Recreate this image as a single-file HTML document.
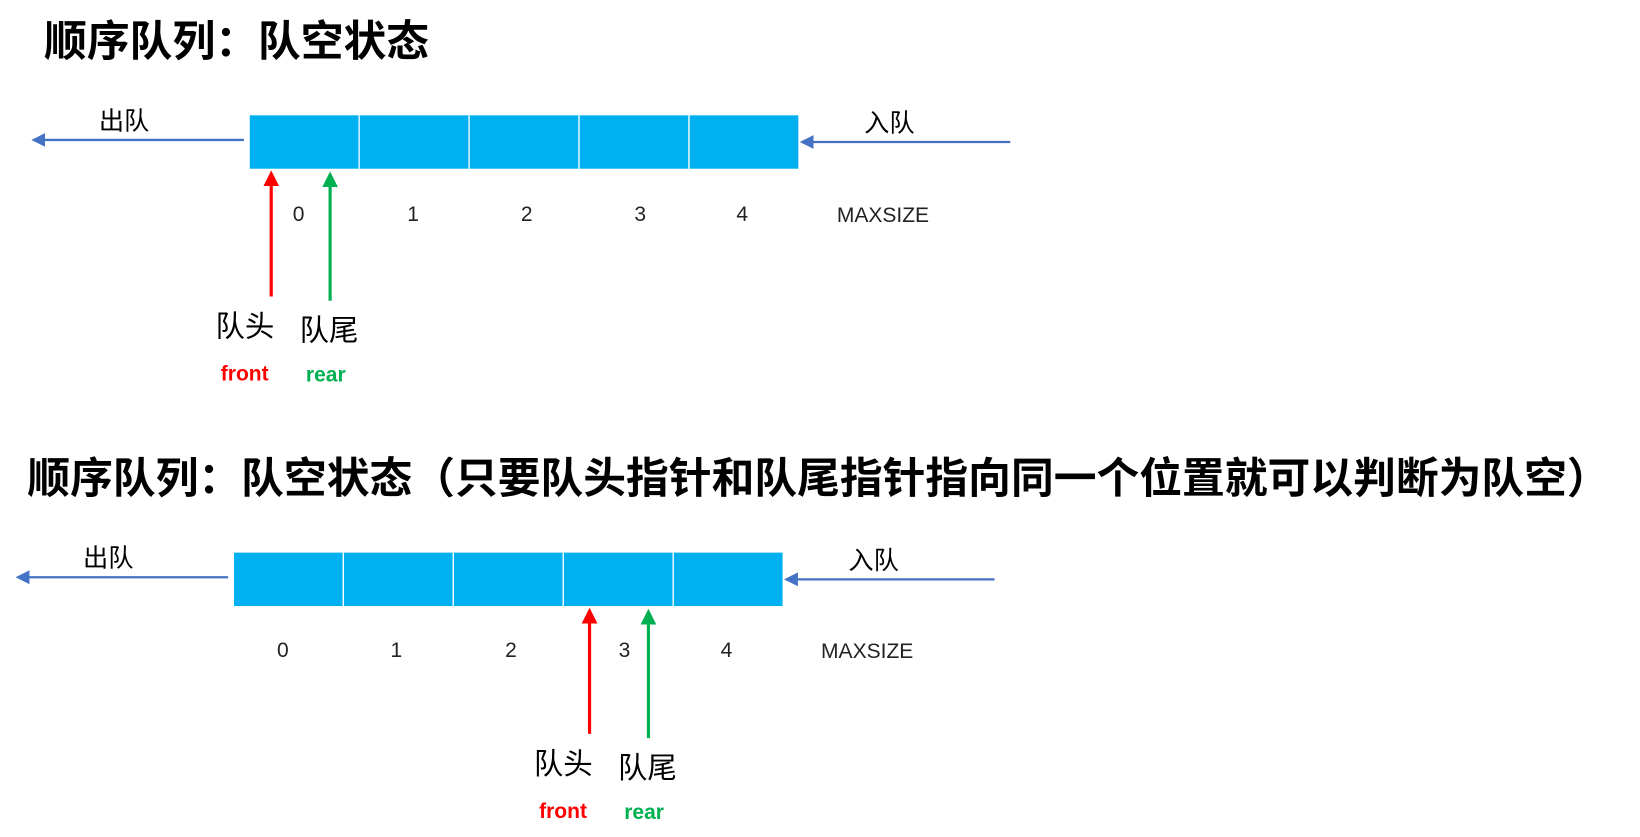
<!DOCTYPE html>
<html><head><meta charset="utf-8"><style>
html,body{margin:0;padding:0;background:#fff;width:1640px;height:837px;overflow:hidden}
text{font-family:"Liberation Sans","Noto Sans CJK SC",sans-serif}
.cn{font-family:"Noto Sans CJK SC","Liberation Sans",sans-serif}
</style></head><body>
<svg id="chart" width="1640" height="837" viewBox="0 0 1560 796" xmlns="http://www.w3.org/2000/svg">
<defs>
<marker id="mb" markerWidth="6" markerHeight="6" refX="5" refY="3" orient="auto"><path d="M0,0 L6,3 L0,6 z" fill="#4472C4"/></marker>
<marker id="mr" markerWidth="5" markerHeight="5" refX="4" refY="2.5" orient="auto"><path d="M0,0 L5,2.5 L0,5 z" fill="#FF0000"/></marker>
<marker id="mg" markerWidth="5" markerHeight="5" refX="4" refY="2.5" orient="auto"><path d="M0,0 L5,2.5 L0,5 z" fill="#00B050"/></marker>
</defs>
<g id="root"></g>
</svg>
<script>
const indexLabels = ["0","1","2","3","4"];
const frontIndex = [0, 3];
const rearIndex = [0, 3];
const panels = [
  {title:"顺序队列：队空状态", tx:42, ty:53, bx:237, by:109, idxY:203, idxX:[284,393,501,609,706]},
  {title:"顺序队列：队空状态（只要队头指针和队尾指针指向同一个位置就可以判断为队空）", tx:26, ty:469, bx:222, by:525, idxY:618, idxX:[269,377,486,594,691]}
];
const NS="http://www.w3.org/2000/svg";
const root=document.getElementById('root');
function mk(tag,attrs,parent){const e=document.createElementNS(NS,tag);for(const k in attrs)e.setAttribute(k,attrs[k]);(parent||root).appendChild(e);return e;}
const cellW=104.6, boxH=52;
panels.forEach((p,pi)=>{
  const g=mk('g',{});
  
  
  const t=mk('text',{x:p.tx,y:p.ty,'font-size':40.7,'font-weight':'bold',class:'cn',fill:'#000'},g);
  t.textContent=p.title;
  
  
  for(let i=0;i<indexLabels.length;i++){
    const r=mk('rect',{x:p.bx+i*cellW,y:p.by,width:cellW,height:boxH,fill:'#00B0F0',stroke:'#fff','stroke-width':1.2},g);
    
    
    const l=mk('text',{x:p.idxX[i],y:p.idxY+7,'font-size':20,'text-anchor':'middle',fill:'#222'},g);
    l.textContent=indexLabels[i];
    
    
  }
  const ms=mk('text',{x:p.bx+559,y:p.idxY+8,'font-size':20,fill:'#222'},g);
  ms.textContent="MAXSIZE";
  
  
  const dq=mk('line',{x1:p.bx-5,y1:p.by+24,x2:p.bx-205,y2:p.by+24,stroke:'#4472C4','stroke-width':2.2,'marker-end':'url(#mb)'},g);
  
  
  const dqt=mk('text',{x:p.bx-143,y:p.by+14,'font-size':24,class:'cn',fill:'#000'},g);
  dqt.textContent="出队";
  
  
  const eq=mk('line',{x1:p.bx+724,y1:p.by+26,x2:p.bx+526,y2:p.by+26,stroke:'#4472C4','stroke-width':2.2,'marker-end':'url(#mb)'},g);
  
  
  const eqt=mk('text',{x:p.bx+585,y:p.by+16,'font-size':24,class:'cn',fill:'#000'},g);
  eqt.textContent="入队";
  
  
  const fx=p.bx+frontIndex[pi]*cellW+(pi?25:21);
  const rx=p.bx+rearIndex[pi]*cellW+(pi?81:77);
  const fa=mk('line',{x1:fx,y1:p.by+173,x2:fx,y2:p.by+56,stroke:'#FF0000','stroke-width':3,'marker-end':'url(#mr)'},g);
  
  
  const ra=mk('line',{x1:rx,y1:p.by+177,x2:rx,y2:p.by+57,stroke:'#00B050','stroke-width':3,'marker-end':'url(#mg)'},g);
  
  
  const fh=mk('text',{x:fx-53,y:p.by+211,'font-size':28,class:'cn',fill:'#000'},g);
  fh.textContent="队头";
  
  
  const rh=mk('text',{x:rx-29,y:p.by+215,'font-size':28,class:'cn',fill:'#000'},g);
  rh.textContent="队尾";
  
  
  const ft=mk('text',{x:fx-48,y:p.by+253,'font-size':20,'font-weight':'bold',fill:'#FF0000'},g);
  ft.textContent="front";
  
  
  const rt=mk('text',{x:rx-23,y:p.by+254,'font-size':20,'font-weight':'bold',fill:'#00B050'},g);
  rt.textContent="rear";
  
  
});
</script>
</body></html>
